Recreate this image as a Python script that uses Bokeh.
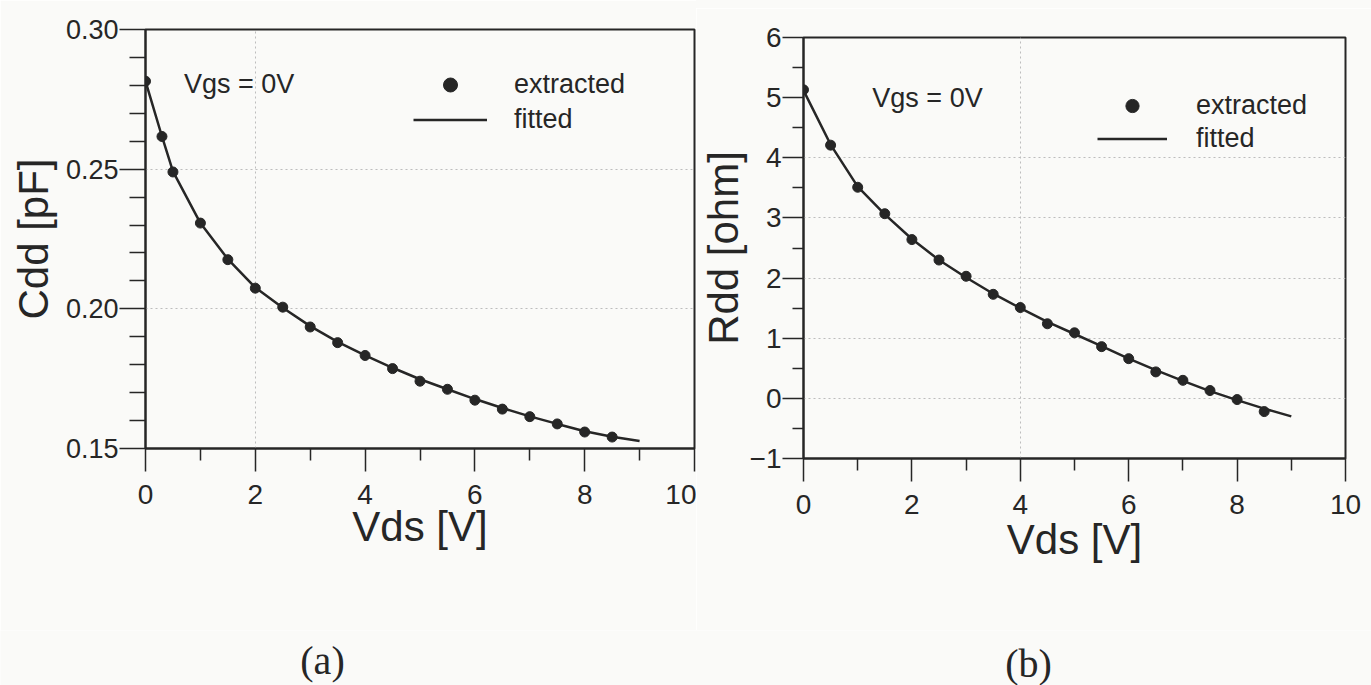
from bokeh.plotting import figure
from bokeh.layouts import row, column
from bokeh.models import (FixedTicker, PrintfTickFormatter, Label, Legend, LegendItem,
                          Range1d, Spacer)
from bokeh.core.properties import value
from bokeh.embed import file_html
from bokeh.resources import INLINE

# ---------------- data ----------------
# (a) Cdd vs Vds
cdd_vds = [0.0, 0.3, 0.5, 1.0, 1.5, 2.0, 2.5, 3.0, 3.5, 4.0, 4.5, 5.0, 5.5, 6.0, 6.5, 7.0, 7.5, 8.0, 8.5]
cdd_ext = [0.2815, 0.2617, 0.2490, 0.2307, 0.2176, 0.2074, 0.2006, 0.1935, 0.1879, 0.1833, 0.1786,
           0.1741, 0.1712, 0.1673, 0.1641, 0.1614, 0.1588, 0.1559, 0.1541]
cdd_fit_vds = [0.0, 0.3, 0.5, 1.0, 1.5, 2.0, 2.5, 3.0, 3.5, 4.0, 4.5, 5.0, 5.5, 6.0, 6.5, 7.0, 7.5, 8.0, 8.5, 9.0]
cdd_fit = [0.2815, 0.2617, 0.2492, 0.2307, 0.2178, 0.2076, 0.2004, 0.1938, 0.1882, 0.1833, 0.1789,
           0.1748, 0.1712, 0.1677, 0.1645, 0.1615, 0.1588, 0.1562, 0.1542, 0.1527]

# (b) Rdd vs Vds
rdd_vds = [0.0, 0.5, 1.0, 1.5, 2.0, 2.5, 3.0, 3.5, 4.0, 4.5, 5.0, 5.5, 6.0, 6.5, 7.0, 7.5, 8.0, 8.5]
rdd_ext = [5.13, 4.21, 3.51, 3.07, 2.64, 2.30, 2.03, 1.73, 1.51, 1.24, 1.09, 0.86, 0.66, 0.44, 0.30,
           0.13, -0.02, -0.22]
rdd_fit_vds = [0.0, 0.5, 1.0, 1.5, 2.0, 2.5, 3.0, 3.5, 4.0, 4.5, 5.0, 5.5, 6.0, 6.5, 7.0, 7.5, 8.0, 8.5, 9.0]
rdd_fit = [5.12, 4.22, 3.52, 3.06, 2.65, 2.30, 2.01, 1.74, 1.50, 1.27, 1.07, 0.87, 0.66, 0.47, 0.29,
           0.12, -0.03, -0.17, -0.30]

# ticks
x_major = [0, 2, 4, 6, 8, 10]
x_minor = [1, 3, 5, 7, 9]
cdd_major = [0.15, 0.20, 0.25, 0.30]
cdd_minor = [0.16, 0.17, 0.18, 0.19, 0.21, 0.22, 0.23, 0.24, 0.26, 0.27, 0.28, 0.29]
rdd_major = [-1, 0, 1, 2, 3, 4, 5, 6]
rdd_minor = [-0.5, 0.5, 1.5, 2.5, 3.5, 4.5, 5.5]

# panel captions
captions = ["(a)", "(b)"]

BG = "#fafaf8"
INK = "#262626"
SANS = "Liberation Sans"
SERIF = "Liberation Serif"


def style(p, yl, tick_out_y, minor_out_y, ylabel_standoff, yfs, xlabel_standoff):
    p.background_fill_color = BG
    p.border_fill_color = BG
    p.outline_line_color = INK
    p.outline_line_width = 2
    for ax in (p.xaxis[0], p.yaxis[0]):
        ax.axis_line_color = INK
        ax.axis_line_width = 2
        ax.major_tick_line_color = INK
        ax.minor_tick_line_color = INK
        ax.major_tick_line_width = 1.5
        ax.minor_tick_line_width = 1.5
        ax.major_tick_in = 0
        ax.minor_tick_in = 0
        ax.major_label_text_font = SANS
        ax.major_label_text_color = INK
        ax.axis_label_text_font = SANS
        ax.axis_label_text_font_style = "normal"
        ax.axis_label_text_color = INK
        ax.axis_label_text_font_size = "42px"
    p.xaxis[0].major_tick_out = 23
    p.xaxis[0].minor_tick_out = 12
    p.xaxis[0].major_label_standoff = 13
    p.xaxis[0].major_label_text_font_size = "28px"
    p.xaxis[0].axis_label_standoff = xlabel_standoff
    p.xaxis[0].axis_label = "Vds [V]"
    p.xaxis[0].ticker = FixedTicker(ticks=x_major, minor_ticks=x_minor)
    p.yaxis[0].major_tick_out = tick_out_y
    p.yaxis[0].minor_tick_out = minor_out_y
    p.yaxis[0].major_label_standoff = 1
    p.yaxis[0].major_label_text_font_size = yfs
    p.yaxis[0].axis_label_standoff = ylabel_standoff
    p.yaxis[0].axis_label = yl
    for g in (p.xgrid[0], p.ygrid[0]):
        g.grid_line_color = "#bdbdbd"
        g.grid_line_dash = "2 3"
        g.grid_line_width = 1


# ---------------- (a) ----------------
p1 = figure(width=696, height=630, output_backend="svg", toolbar_location=None,
            x_range=Range1d(0, 10), y_range=Range1d(0.15, 0.30),
            min_border_left=145, min_border_right=2, min_border_top=29, min_border_bottom=182)
style(p1, "Cdd [pF]", 26, 16, 6, "27px", -4)
p1.yaxis[0].ticker = FixedTicker(ticks=cdd_major, minor_ticks=cdd_minor)
p1.yaxis[0].formatter = PrintfTickFormatter(format="%.2f")
p1.xgrid[0].ticker = FixedTicker(ticks=[2])
p1.ygrid[0].ticker = FixedTicker(ticks=[0.20, 0.25])

l1 = p1.line(cdd_fit_vds, cdd_fit, line_color=INK, line_width=2.5)
s1 = p1.scatter(cdd_vds, cdd_ext, size=10, fill_color=INK, line_color=INK)
p1.add_layout(Label(x=0.7, y=0.2805, text="Vgs = 0V", text_font=SANS, text_font_size="27px",
                    text_color=INK, text_baseline="middle"))
leg1 = Legend(items=[LegendItem(label="extracted", renderers=[s1]),
                     LegendItem(label="fitted", renderers=[l1])],
              location=(268, 311), glyph_width=74, glyph_height=35, label_height=35,
              label_standoff=27, padding=0, spacing=0, margin=0,
              border_line_alpha=0, background_fill_alpha=0,
              label_text_font=SANS, label_text_font_size="27px", label_text_color=INK)
p1.add_layout(leg1)

# ---------------- (b) ----------------
p2 = figure(width=675, height=622, output_backend="svg", toolbar_location=None,
            x_range=Range1d(0, 10), y_range=Range1d(-1, 6),
            min_border_left=99, min_border_right=26, min_border_top=29, min_border_bottom=172)
style(p2, "Rdd [ohm]", 21, 11, 0, "28px", -1)
p2.yaxis[0].ticker = FixedTicker(ticks=rdd_major, minor_ticks=rdd_minor)
p2.xgrid[0].ticker = FixedTicker(ticks=[4])
p2.ygrid[0].ticker = FixedTicker(ticks=[0, 1, 2, 3, 4])

l2 = p2.line(rdd_fit_vds, rdd_fit, line_color=INK, line_width=2.5)
s2 = p2.scatter(rdd_vds, rdd_ext, size=10, fill_color=INK, line_color=INK)
p2.add_layout(Label(x=1.27, y=5.0, text="Vgs = 0V", text_font=SANS, text_font_size="27px",
                    text_color=INK, text_baseline="middle"))
leg2 = Legend(items=[LegendItem(label="extracted", renderers=[s2]),
                     LegendItem(label="fitted", renderers=[l2])],
              location=(294, 303), glyph_width=70, glyph_height=33, label_height=33,
              label_standoff=29, padding=0, spacing=0, margin=0,
              border_line_alpha=0, background_fill_alpha=0,
              label_text_font=SANS, label_text_font_size="27px", label_text_color=INK)
p2.add_layout(leg2)

# ---------------- caption strip ----------------
cap = figure(width=1371, height=55, output_backend="svg", toolbar_location=None,
             x_range=Range1d(0, 1371), y_range=Range1d(0, 55),
             min_border=0, min_border_left=0, min_border_right=0,
             min_border_top=0, min_border_bottom=0)
cap.axis.visible = False
cap.grid.visible = False
cap.outline_line_color = None
cap.background_fill_color = BG
cap.border_fill_color = BG
cap.text(x=[322, 1028], y=[25, 22], text=captions, text_font=value(SERIF),
         text_font_size="40px", text_color=INK, text_align="center", text_baseline="middle")

sp = Spacer(width=675, height=8, styles={"background-color": BG})
layout = column(row(p1, column(sp, p2)), cap)
open("out.html", "w").write(file_html(layout, INLINE))
